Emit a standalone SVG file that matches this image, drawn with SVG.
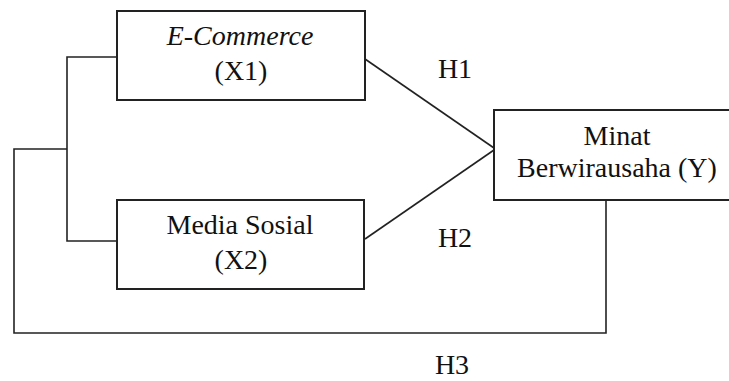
<svg xmlns="http://www.w3.org/2000/svg" width="729" height="381" viewBox="0 0 729 381">
<style>
.box{fill:#fff;stroke:#222;stroke-width:2}
.ln{fill:none;stroke:#222;stroke-width:1.6}
.t{font-family:'Liberation Serif','Times New Roman',Times,serif;font-size:28px;fill:#111;text-anchor:middle}
</style>
<rect width="729" height="381" fill="#fff"/>
<g id="connectors">
<polyline class="ln" points="117,57 67,57 67,241 117,241"/>
<polyline class="ln" points="67,149 14,149 14,333 606,333 606,200"/>
<line class="ln" x1="365" y1="59" x2="494" y2="148"/>
<line class="ln" x1="365" y1="239" x2="494" y2="150"/>
<text class="t" x="455" y="78">H1</text>
<text class="t" x="455" y="247">H2</text>
<text class="t" x="452" y="374">H3</text>
</g>
<g id="x1">
<rect class="box" x="117" y="11" width="248" height="89"/>
<text class="t" x="240" y="45" font-style="italic">E-Commerce</text>
<text class="t" x="241" y="80">(X1)</text>
</g>
<g id="x2">
<rect class="box" x="117" y="200" width="247" height="89"/>
<text class="t" x="240" y="234">Media Sosial</text>
<text class="t" x="241" y="269">(X2)</text>
</g>
<g id="y">
<rect class="box" x="494" y="110" width="250" height="90"/>
<text class="t" x="617" y="145">Minat</text>
<text class="t" x="617" y="177">Berwirausaha (Y)</text>
</g>
</svg>
